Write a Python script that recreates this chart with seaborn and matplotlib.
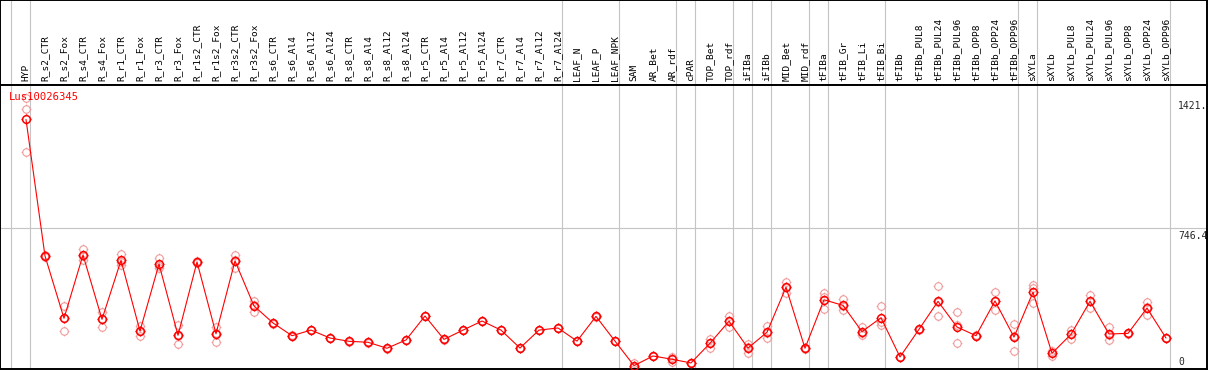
import numpy as np
import pandas as pd
import matplotlib
matplotlib.use("Agg")
import matplotlib.pyplot as plt
from matplotlib.path import Path
import seaborn as sns

# amostras (ordem do eixo x)
categorias = [
    "HYP", "R_s2_CTR", "R_s2_Fox", "R_s4_CTR", "R_s4_Fox", "R_r1_CTR", "R_r1_Fox",
    "R_r3_CTR", "R_r3_Fox", "R_r1s2_CTR", "R_r1s2_Fox", "R_r3s2_CTR", "R_r3s2_Fox",
    "R_s6_CTR", "R_s6_Al4", "R_s6_Al12", "R_s6_Al24", "R_s8_CTR", "R_s8_Al4",
    "R_s8_Al12", "R_s8_Al24", "R_r5_CTR", "R_r5_Al4", "R_r5_Al12", "R_r5_Al24",
    "R_r7_CTR", "R_r7_Al4", "R_r7_Al12", "R_r7_Al24", "LEAF_N", "LEAF_P", "LEAF_NPK",
    "SAM", "AR_Bet", "AR_rdf", "cPAR", "TOP_Bet", "TOP_rdf", "iFIBa", "iFIBb",
    "MID_Bet", "MID_rdf", "tFIBa", "tFIB_Gr", "tFIB_Li", "tFIB_Bi", "tFIBb",
    "tFIBb_PUL8", "tFIBb_PUL24", "tFIBb_PUL96", "tFIBb_OPP8", "tFIBb_OPP24",
    "tFIBb_OPP96", "sXYLa", "sXYLb", "sXYLb_PUL8", "sXYLb_PUL24", "sXYLb_PUL96",
    "sXYLb_OPP8", "sXYLb_OPP24", "sXYLb_OPP96",
]

# tres replicas por amostra
rep_a = [1421, 598, 343, 636, 313, 610, 239, 590, 243, 566, 236, 608, 370, 252, 186,
         216, 175, 158, 153, 122, 165, 289, 168, 216, 263, 216, 123, 216, 227, 159,
         287, 159, 49, 82, 80, 50, 173, 291, 148, 238, 469, 122, 408, 377, 232,
         341, 77, 218, 445, 310, 185, 414, 248, 451, 111, 220, 400, 234, 199, 362, 175]
rep_b = [1363, 605, 281, 604, 273, 572, 213, 552, 186, 574, 203, 582, 346, 257, 191,
         220, 179, 162, 157, 126, 169, 293, 172, 220, 267, 220, 127, 220, 231, 163,
         291, 163, 27, 86, 70, 46, 153, 265, 128, 204, 443, 126, 391, 341, 205,
         262, 81, 226, 365, 242, 193, 371, 190, 434, 99, 198, 367, 195, 203, 338, 179]
rep_c = [1142, 603, 213, 581, 236, 555, 187, 538, 144, 573, 158, 538, 313, 256, 190,
         218, 177, 160, 155, 124, 167, 291, 170, 218, 265, 218, 125, 218, 229, 161,
         289, 161, 26, 84, 51, 48, 124, 236, 99, 179, 408, 124, 326, 320, 193,
         243, 79, 222, 291, 150, 189, 322, 108, 357, 84, 170, 334, 165, 201, 296, 177]

# fim de cada grupo de amostras (linhas verticais)
fim_grupos = [-1, 0, 28, 31, 34, 35, 37, 38, 39, 41, 42, 45, 52, 53, 60]

gene = "Lus10026345"
y_marcas = [1421, 746.4, 0]
y_rotulos = ["1421.", "746.4", "0"]

# tabela longa
n = len(categorias)
df = pd.DataFrame({
    "pos": list(range(n)) * 3,
    "amostra": categorias * 3,
    "rep": ["a"] * n + ["b"] * n + ["c"] * n,
    "valor": rep_a + rep_b + rep_c,
})

sns.set_style("white")
plt.rcParams["font.family"] = ["DejaVu Sans Mono", "DejaVu Sans"]

# marcador: circulo com pequenos tracos
ang = np.linspace(0, 2 * np.pi, 65)
verts = [(np.cos(t), np.sin(t)) for t in ang]
codes = [Path.MOVETO] + [Path.LINETO] * 63 + [Path.CLOSEPOLY]
for dx, dy in [(0, 1), (0, -1), (1, 0), (-1, 0)]:
    verts += [(dx, dy), (1.3 * dx, 1.3 * dy)]
    codes += [Path.MOVETO, Path.LINETO]
marcador = Path(verts, codes)

W, H = 1209, 370
fig = plt.figure(figsize=(W / 100, H / 100), dpi=100)
larg = 1207 / W
ax_h = fig.add_axes([0, 285 / H, larg, 85 / H])
ax = fig.add_axes([0, 1 / H, larg, 284 / H])

xlim = (-26 / 19, (1207 - 26) / 19)
cinza = "#c4c4c4"

for a in (ax, ax_h):
    a.set_xlim(*xlim)
    a.set_xticks([])
    a.set_yticks([])
    for g in fim_grupos:
        a.axvline(g + 0.22, color=cinza, lw=0.8, zorder=0)
    for s in a.spines.values():
        s.set_color("black")
        s.set_linewidth(1.4)

# cabecalho com nomes das amostras
ax_h.set_ylim(0, 1)
for i, nome in enumerate(categorias):
    ax_h.text(i, 0.045, nome, rotation=90, ha="center", va="bottom",
              fontsize=6.8, color="black")

# grafico
ax.set_ylim(16.6, 1487)
ax.axhline(746.4, color=cinza, lw=0.8, zorder=0)

sns.lineplot(data=df, x="pos", y="valor", units="rep", estimator=None,
             linestyle="", marker=marcador, markersize=7.0, markerfacecolor="none",
             markeredgecolor="#f09a9a", markeredgewidth=0.8, ax=ax, legend=False, zorder=2)
sns.lineplot(data=df, x="pos", y="valor", estimator="mean", errorbar=None,
             color="#ff0000", lw=0.8, marker=marcador, markersize=7.2,
             markerfacecolor="none", markeredgecolor="#ff0000", markeredgewidth=1.1,
             ax=ax, legend=False, zorder=3)
ax.set_xlim(*xlim)
ax.set_ylim(16.6, 1487)
ax.set_xlabel("")
ax.set_ylabel("")
ax.set_xticks([])
ax.set_yticks([])

# rotulos do eixo y a direita
x_rot = (1178 - 26) / 19
for v, r in zip(y_marcas, y_rotulos):
    if v < ax.get_ylim()[0]:
        ax.annotate(r, (x_rot, 0), xycoords=("data", "axes fraction"),
                    xytext=(0, 2), textcoords="offset pixels",
                    va="bottom", ha="left", fontsize=7)
    else:
        ax.annotate(r, (x_rot, v), xytext=(0, -3), textcoords="offset pixels",
                    va="top", ha="left", fontsize=7)

ax.text(9 / 1207, 1 - 12 / 284, gene, transform=ax.transAxes, color="#ff0000",
        fontsize=7.6, va="center", ha="left", zorder=4)

fig.savefig("out.png", dpi=100)
